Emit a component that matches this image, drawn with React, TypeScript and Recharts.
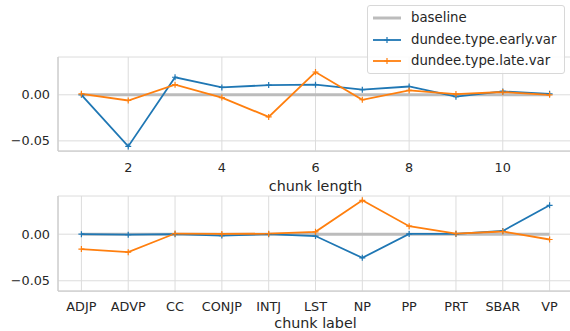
import { LineChart, Line, XAxis, YAxis, CartesianGrid } from 'recharts';

const lengths = [1, 2, 3, 4, 5, 6, 7, 8, 9, 10, 11];
const earlyByLength = [0.0, -0.056, 0.019, 0.008, 0.0105, 0.011, 0.0055, 0.009, -0.002, 0.0036, 0.001];
const lateByLength = [0.001, -0.0062, 0.011, -0.003, -0.024, 0.0247, -0.0054, 0.0047, 0.0008, 0.003, 0.0];

const labels = ['ADJP', 'ADVP', 'CC', 'CONJP', 'INTJ', 'LST', 'NP', 'PP', 'PRT', 'SBAR', 'VP'];
const earlyByLabel = [0.0, -0.0005, 0.0, -0.0015, 0.0, -0.002, -0.0254, 0.0003, 0.0003, 0.0035, 0.031];
const lateByLabel = [-0.016, -0.0193, 0.0007, 0.0003, 0.0005, 0.0025, 0.0364, 0.0086, 0.0007, 0.0029, -0.0057];

const lengthTicks = [2, 4, 6, 8, 10];
const yTicks = [-0.05, 0];
const yDomain = [-0.061, 0.041];

const BLUE = '#1f77b4';
const ORANGE = '#ff7f0e';
const GRAY = '#bcbcbc';
const GRID = '#dcdcdc';
const SPINE = '#cccccc';
const TEXT = '#262626';
const FONT = '"DejaVu Sans", sans-serif';

const lengthRows = lengths.map((len, i) => ({
    len,
    baseline: 0,
    early: earlyByLength[i],
    late: lateByLength[i],
}));

const labelRows = labels.map((label, i) => ({
    label,
    baseline: 0,
    early: earlyByLabel[i],
    late: lateByLabel[i],
}));

const fmt = (v: number) => {
    const s = Math.abs(v).toFixed(2);
    return v < -1e-9 ? '\u2212' + s : s;
};

const plus = (color: string) => (props: any) => {
    const { cx, cy, index } = props;
    if (cx == null || cy == null) return <g key={index} />;
    return (
        <path
            key={index}
            d={`M${cx - 3},${cy}h6M${cx},${cy - 3}v6`}
            stroke={color}
            strokeWidth={1.2}
            fill="none"
        />
    );
};

const tickStyle = { fontSize: 12.8, fill: TEXT, fontFamily: FONT };
const labelStyle = { fontSize: 14.3, fill: TEXT, fontFamily: FONT };

const series = (
    <>
        <Line dataKey="baseline" stroke={GRAY} strokeWidth={3} dot={false} isAnimationActive={false} />
        <Line dataKey="early" stroke={BLUE} strokeWidth={1.8} dot={plus(BLUE)} isAnimationActive={false} />
        <Line dataKey="late" stroke={ORANGE} strokeWidth={1.8} dot={plus(ORANGE)} isAnimationActive={false} />
    </>
);

const LegendBox = () => (
    <div
        style={{
            position: 'absolute',
            left: 367,
            top: 5,
            width: 198,
            height: 69,
            border: '1px solid #d8d8d8',
            borderRadius: 3,
            background: 'rgba(255,255,255,0.85)',
            fontFamily: FONT,
            fontSize: 13.3,
            color: TEXT,
            boxSizing: 'border-box',
        }}
    >
        {[
            { name: 'baseline', color: GRAY, w: 3, marker: false, y: 12 },
            { name: 'dundee.type.early.var', color: BLUE, w: 1.8, marker: true, y: 34 },
            { name: 'dundee.type.late.var', color: ORANGE, w: 1.8, marker: true, y: 55 },
        ].map((it) => (
            <div key={it.name}>
                <svg width={30} height={10} style={{ position: 'absolute', left: 4, top: it.y - 5 }}>
                    <line x1={1} x2={29} y1={5} y2={5} stroke={it.color} strokeWidth={it.w} />
                    {it.marker && <path d="M12,5h6M15,2v6" stroke={it.color} strokeWidth={1.2} />}
                </svg>
                <span style={{ position: 'absolute', left: 43, top: it.y - 9, lineHeight: '18px', whiteSpace: 'nowrap' }}>
                    {it.name}
                </span>
            </div>
        ))}
    </div>
);

const App = () => {
    return (
        <div
            style={{
                position: 'absolute',
                left: 0,
                top: 0,
                width: 570,
                height: 331,
                overflow: 'hidden',
                background: '#fff',
            }}
        >
            <div style={{ position: 'absolute', left: 0, top: 0 }}>
                <LineChart width={574} height={196} data={lengthRows} margin={{ top: 57, right: 1, bottom: 6, left: 0 }}>
                    <CartesianGrid stroke={GRID} strokeWidth={1} />
                    <XAxis
                        dataKey="len"
                        type="number"
                        domain={[0.5, 11.5]}
                        ticks={lengthTicks}
                        allowDataOverflow
                        tickLine={false}
                        axisLine={{ stroke: SPINE, strokeWidth: 1.25 }}
                        tick={{ ...tickStyle, dy: 4 }}
                        height={39}
                        label={{ value: 'chunk length', position: 'insideBottom', offset: -1, style: labelStyle }}
                    />
                    <XAxis
                        xAxisId="top"
                        dataKey="len"
                        type="number"
                        domain={[0.5, 11.5]}
                        orientation="top"
                        height={0}
                        tick={false}
                        tickLine={false}
                        axisLine={{ stroke: SPINE, strokeWidth: 1.25 }}
                    />
                    <YAxis
                        width={58}
                        domain={yDomain}
                        ticks={yTicks}
                        allowDataOverflow
                        tickFormatter={fmt}
                        tickLine={false}
                        axisLine={{ stroke: SPINE, strokeWidth: 1.25 }}
                        tick={tickStyle}
                    />
                    {series}
                </LineChart>
            </div>
            <div style={{ position: 'absolute', left: 0, top: 190 }}>
                <LineChart width={574} height={141} data={labelRows} margin={{ top: 6, right: 1, bottom: 0, left: 0 }}>
                    <CartesianGrid stroke={GRID} strokeWidth={1} />
                    <XAxis
                        dataKey="label"
                        type="category"
                        padding={{ left: 23.4, right: 23.4 }}
                        interval={0}
                        tickLine={false}
                        axisLine={{ stroke: SPINE, strokeWidth: 1.25 }}
                        tick={{ ...tickStyle, dy: 3 }}
                        height={40}
                        label={{ value: 'chunk label', position: 'insideBottom', offset: 3, style: labelStyle }}
                    />
                    <XAxis
                        xAxisId="top"
                        dataKey="label"
                        type="category"
                        orientation="top"
                        height={0}
                        tick={false}
                        tickLine={false}
                        axisLine={{ stroke: SPINE, strokeWidth: 1.25 }}
                    />
                    <YAxis
                        width={58}
                        domain={yDomain}
                        ticks={yTicks}
                        allowDataOverflow
                        tickFormatter={fmt}
                        tickLine={false}
                        axisLine={{ stroke: SPINE, strokeWidth: 1.25 }}
                        tick={tickStyle}
                    />
                    {series}
                </LineChart>
            </div>
            <LegendBox />
        </div>
    );
};

export default App;
